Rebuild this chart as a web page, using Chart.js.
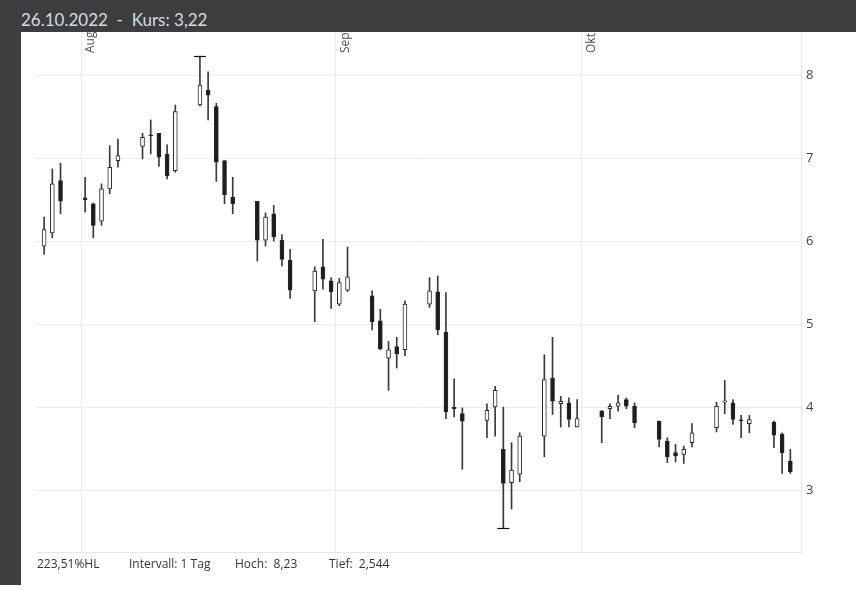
<!DOCTYPE html>
<html>
<head>
<meta charset="utf-8">
<script src="https://cdn.jsdelivr.net/npm/chart.js@4/dist/chart.umd.min.js"></script>
<style>
  html, body { margin: 0; padding: 0; background: #ffffff; }
  body { width: 856px; height: 590px; position: relative; overflow: hidden; font-family: "Open Sans", sans-serif; }
  #topband { position: absolute; left: 0; top: 0; width: 856px; height: 32px; background: #3d3d3d; }
  #leftband { position: absolute; left: 0; top: 0; width: 21px; height: 585px; background: #3d3d3d; }
  #title { position: absolute; left: 21px; top: 9px; font-family: Lato, "Open Sans", sans-serif; font-size: 17px; color: #cfdde8; white-space: pre; line-height: 22px; }
  #wrap { position: absolute; left: 21px; top: 32px; width: 835px; height: 558px; }
  .foot { position: absolute; top: 555px; font-size: 12px; color: #333; white-space: pre; line-height: 18px; }
</style>
</head>
<body>
<div id="topband"></div>
<div id="leftband"></div>
<div id="title">26.10.2022  -  Kurs: 3,22</div>
<div id="wrap"><canvas id="c"></canvas></div>
<div class="foot" style="left:37px">223,51%HL</div>
<div class="foot" style="left:129px">Intervall: 1 Tag</div>
<div class="foot" style="left:235px">Hoch:  8,23</div>
<div class="foot" style="left:329px">Tief:  2,544</div>
<script>
// ---- data ----
const dates = [
  '2022-07-27','2022-07-28','2022-07-29',
  '2022-08-01','2022-08-02','2022-08-03','2022-08-04','2022-08-05',
  '2022-08-08','2022-08-09','2022-08-10','2022-08-11','2022-08-12',
  '2022-08-15','2022-08-16','2022-08-17','2022-08-18','2022-08-19',
  '2022-08-22','2022-08-23','2022-08-24','2022-08-25','2022-08-26',
  '2022-08-29','2022-08-30','2022-08-31','2022-09-01','2022-09-02',
  '2022-09-05','2022-09-06','2022-09-07','2022-09-08','2022-09-09',
  '2022-09-12','2022-09-13','2022-09-14','2022-09-15','2022-09-16',
  '2022-09-19','2022-09-20','2022-09-21','2022-09-22','2022-09-23',
  '2022-09-26','2022-09-27','2022-09-28','2022-09-29','2022-09-30',
  '2022-10-03','2022-10-04','2022-10-05','2022-10-06','2022-10-07',
  '2022-10-10','2022-10-11','2022-10-12','2022-10-13','2022-10-14',
  '2022-10-17','2022-10-18','2022-10-19','2022-10-20','2022-10-21',
  '2022-10-24','2022-10-25','2022-10-26'
];
const openVals = [
  5.94, 6.10, 6.73,
  6.52, 6.45, 6.24, 6.63, 6.97,
  7.14, 7.28, 7.30, 7.05, 6.85,
  7.64, 7.82, 7.62, 6.97, 6.53,
  6.48, 6.01, 6.33, 6.01, 5.77,
  5.40, 5.69, 5.52, 5.24, 5.41,
  5.34, 5.04, 4.59, 4.73, 4.69,
  5.24, 5.39, 4.90, 4.00, 3.92,
  3.84, 4.00, 3.49, 3.09, 3.19,
  3.65, 4.35, 4.04, 4.05, 3.76,
  3.95, 3.98, 4.01, 4.09, 4.01,
  3.83, 3.59, 3.45, 3.43, 3.57,
  3.75, 4.06, 4.05, 3.845, 3.80,
  3.82, 3.67, 3.35
];
const highVals = [
  6.29, 6.87, 6.94,
  6.77, 6.46, 6.69, 7.15, 7.23,
  7.30, 7.46, 7.30, 7.16, 7.64,
  8.23, 8.04, 7.66, 6.97, 6.77,
  6.48, 6.34, 6.43, 6.08, 5.90,
  5.69, 6.02, 5.56, 5.55, 5.93,
  5.40, 5.18, 4.79, 4.84, 5.28,
  5.56, 5.58, 5.38, 4.34, 3.99,
  4.04, 4.25, 4.00, 3.57, 3.69,
  4.63, 4.84, 4.13, 4.11, 4.09,
  3.96, 4.04, 4.14, 4.11, 4.05,
  3.83, 3.63, 3.55, 3.53, 3.80,
  4.06, 4.32, 4.09, 3.90, 3.90,
  3.83, 3.69, 3.49
];
const lowVals = [
  5.84, 6.04, 6.33,
  6.35, 6.04, 6.19, 6.57, 6.89,
  6.99, 7.05, 6.90, 6.75, 6.83,
  7.63, 7.46, 6.72, 6.45, 6.33,
  5.76, 5.94, 6.00, 5.70, 5.31,
  5.03, 5.42, 5.19, 5.22, 5.39,
  4.93, 4.69, 4.20, 4.47, 4.62,
  5.20, 4.87, 3.86, 3.88, 3.25,
  3.63, 3.65, 2.544, 2.77, 3.10,
  3.40, 3.91, 3.76, 3.76, 3.76,
  3.57, 3.86, 3.95, 3.98, 3.75,
  3.52, 3.33, 3.34, 3.32, 3.52,
  3.70, 3.92, 3.79, 3.63, 3.69,
  3.51, 3.20, 3.20
];
const closeVals = [
  6.14, 6.69, 6.48,
  6.50, 6.19, 6.63, 6.89, 7.03,
  7.25, 7.27, 7.01, 6.79, 7.56,
  7.88, 7.76, 6.95, 6.56, 6.45,
  6.01, 6.29, 6.05, 5.78, 5.41,
  5.64, 5.54, 5.39, 5.50, 5.57,
  5.03, 4.70, 4.69, 4.64, 5.24,
  5.40, 4.93, 3.94, 3.98, 3.83,
  3.96, 4.20, 3.08, 3.24, 3.65,
  4.33, 4.07, 4.07, 3.85, 3.86,
  3.88, 4.01, 4.05, 4.01, 3.81,
  3.61, 3.40, 3.41, 3.49, 3.69,
  4.01, 4.075, 3.85, 3.835, 3.85,
  3.66, 3.45, 3.22
];
const monthTickDates = ['2022-08-01', '2022-09-01', '2022-10-01'];
const monthTickLabels = ['Aug', 'Sep', 'Okt'];
const priceTicks = [3, 4, 5, 6, 7, 8];

// ---- helpers ----
const DAY = 86400000;
const ORIGIN = Date.UTC(2022, 7, 1);
function dayOffset(s) {
  const p = s.split('-').map(Number);
  return (Date.UTC(p[0], p[1] - 1, p[2]) - ORIGIN) / DAY;
}
const xs = dates.map(d => dayOffset(d) + 0.5);
const monthTickVals = monthTickDates.map(dayOffset);

const bodyData = xs.map((x, i) => ({ x: x, y: [openVals[i], closeVals[i]] }));
const wickData = xs.map((x, i) => ({ x: x, y: [lowVals[i], highVals[i]] }));
const bodyFill = openVals.map((o, i) => closeVals[i] >= o ? '#ffffff' : '#1c1c1c');

const capPlugin = {
  id: 'caps',
  afterDatasetsDraw(chart) {
    const { ctx, scales } = chart;
    let hi = 0, lo = 0;
    highVals.forEach((v, i) => { if (v > highVals[hi]) hi = i; });
    lowVals.forEach((v, i) => { if (v < lowVals[lo]) lo = i; });
    ctx.save();
    ctx.strokeStyle = '#111';
    ctx.lineWidth = 1.2;
    [[hi, highVals[hi]], [lo, lowVals[lo]]].forEach(([i, v]) => {
      const px = scales.x.getPixelForValue(xs[i]);
      const py = Math.round(scales.y.getPixelForValue(v)) + 0.5;
      ctx.beginPath();
      ctx.moveTo(px - 6, py);
      ctx.lineTo(px + 6, py);
      ctx.stroke();
    });
    ctx.restore();
  }
};

const monthLabelPlugin = {
  id: 'monthLabels',
  afterDraw(chart) {
    const { ctx, scales, chartArea } = chart;
    ctx.save();
    ctx.font = '12px "Open Sans", sans-serif';
    ctx.fillStyle = '#505050';
    ctx.textAlign = 'left';
    ctx.textBaseline = 'middle';
    monthTickVals.forEach((v, i) => {
      const px = scales.x.getPixelForValue(v);
      ctx.save();
      ctx.translate(px + 10, chartArea.top + 21);
      ctx.rotate(-Math.PI / 2);
      ctx.fillText(monthTickLabels[i], 0, 0);
      ctx.restore();
    });
    ctx.restore();
  }
};

new Chart(document.getElementById('c'), {
  type: 'bar',
  data: {
    datasets: [
      {
        label: 'body',
        data: bodyData,
        backgroundColor: bodyFill,
        borderColor: '#2a2a2a',
        borderWidth: 1,
        borderSkipped: false,
        barThickness: 4,
        grouped: false,
        order: 0
      },
      {
        label: 'wick',
        data: wickData,
        backgroundColor: '#3a3a3a',
        borderWidth: 0,
        barThickness: 1,
        grouped: false,
        order: 1
      }
    ]
  },
  options: {
    responsive: true,
    maintainAspectRatio: false,
    animation: false,
    parsing: { xAxisKey: 'x', yAxisKey: 'y' },
    layout: { padding: { left: 15, top: 0, right: 0, bottom: 38 } },
    plugins: { legend: { display: false }, tooltip: { enabled: false } },
    scales: {
      x: {
        type: 'linear',
        position: 'bottom',
        min: -5.49,
        max: 87.8,
        offset: false,
        grid: { color: '#ececec', drawTicks: false, lineWidth: 1, offset: false },
        border: { display: true, color: '#e6e6e6' },
        ticks: { display: false },
        afterBuildTicks(scale) { scale.ticks = monthTickVals.map(v => ({ value: v })); },
        afterFit(scale) { scale.height = 0; scale.paddingLeft = 0; scale.paddingRight = 0; }
      },
      y: {
        type: 'linear',
        position: 'right',
        min: 2.253,
        max: 8.52,
        grid: { color: '#ececec', drawTicks: false, lineWidth: 1 },
        border: { display: true, color: '#e6e6e6' },
        ticks: {
          padding: 5,
          color: '#444',
          font: { family: '"Open Sans", sans-serif', size: 13 },
          callback: v => String(v)
        },
        afterBuildTicks(scale) { scale.ticks = priceTicks.map(v => ({ value: v })); },
        afterFit(scale) { scale.width = 55; scale.paddingTop = 0; scale.paddingBottom = 0; }
      }
    }
  },
  plugins: [capPlugin, monthLabelPlugin]
});
</script>
</body>
</html>
